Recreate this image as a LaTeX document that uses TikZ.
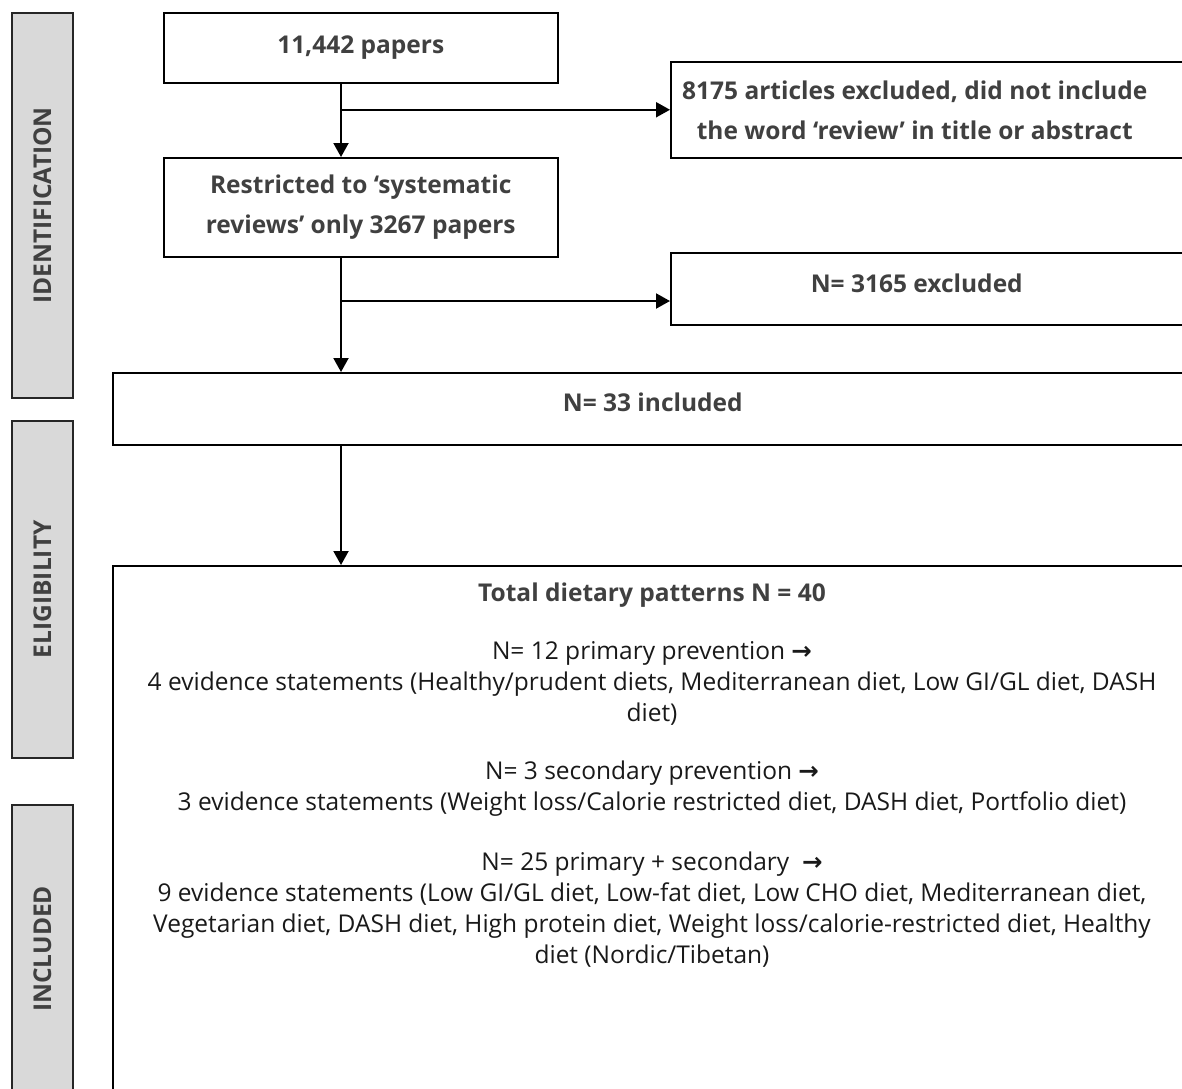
\documentclass[tikz,border=0pt]{standalone}
\usepackage{fontspec}
\setmainfont{Open Sans}
\newfontfamily\symfont{DejaVu Sans}
\usetikzlibrary{arrows.meta,positioning}
\definecolor{bartext}{HTML}{404040}
\definecolor{barfill}{HTML}{D9D9D9}
\newcommand{\toarrow}{{\symfont\bfseries →}}

\begin{document}
\begin{tikzpicture}[x=1pt,y=-1pt,
  stagebar/.style={draw=black!85, line width=1.5pt, fill=barfill, minimum width=61pt, anchor=north west, inner sep=0pt},
  stagelabel/.style={rotate=90, text=bartext, font=\fontsize{24.5}{28}\selectfont\bfseries},
  flowbox/.style={draw, line width=1.5pt, anchor=north west, inner sep=0pt, align=center, text=bartext, font=\fontsize{24.5}{40}\selectfont\bfseries},
  boxtext/.style={align=center, text=bartext, font=\fontsize{24.5}{40}\selectfont\bfseries},
  bodytext/.style={align=center, text=black!90, font=\fontsize{24.5}{31}\selectfont},
  flowarrow/.style={line width=2pt, -{Triangle[length=14pt,width=15pt]}}]
  \useasboundingbox (0,0) rectangle (1182,1088);
  \clip (0,0) rectangle (1182,1088);

  % stage bars on the left
  \node[stagebar, minimum height=385pt] (idbar) at (11,12) {};
  \node[stagelabel] (idlabel) at (idbar.center) {IDENTIFICATION};
  \node[stagebar, minimum height=337pt] (eligbar) at (11,420) {};
  \node[stagelabel] (eliglabel) at (eligbar.center) {ELIGIBILITY};
  \node[stagebar, minimum height=288pt] (inclbar) at (11,804) {};
  \node[stagelabel] (incllabel) at (inclbar.center) {INCLUDED};

  % flow boxes
  \node[flowbox, minimum width=394pt, minimum height=70pt] (papers) at (163,12) {11,442 papers};
  \node[flowbox, minimum width=394pt, minimum height=99pt] (restricted) at (163,157) {Restricted to ‘systematic\\reviews’ only 3267 papers};
  \node[flowbox, minimum width=522pt, minimum height=96pt] (exclA) at (670,61) {};
  \node[boxtext] (exclAtext) at ([xshift=-17pt,yshift=-1pt]exclA.center) {8175 articles excluded, did not include\\the word ‘review’ in title or abstract};
  \node[flowbox, minimum width=522pt, minimum height=72pt] (exclB) at (670,252) {};
  \node[boxtext] (exclBtext) at ([xshift=-15pt,yshift=5pt]exclB.center) {N= 3165 excluded};
  \node[flowbox, minimum width=1080pt, minimum height=72pt, text depth=14pt] (included) at (112,372) {N= 33 included};
  \node[flowbox, minimum width=1080pt, minimum height=540pt] (dietbox) at (112,565) {};

  % text in the last box
  \node[bodytext, font=\fontsize{24.5}{31}\selectfont\bfseries, text=bartext] (total) at (652,595) {Total dietary patterns N = 40};
  \node[bodytext] (primary) at (652,683) {N= 12 primary prevention \toarrow\\4 evidence statements (Healthy/prudent diets, Mediterranean diet, Low GI/GL diet, DASH\\diet)};
  \node[bodytext] (secondary) at (652,789) {N= 3 secondary prevention \toarrow\\3 evidence statements (Weight loss/Calorie restricted diet, DASH diet, Portfolio diet)};
  \node[bodytext] (both) at (652,910) {N= 25 primary + secondary\ \ \toarrow\\9 evidence statements (Low GI/GL diet, Low-fat diet, Low CHO diet, Mediterranean diet,\\Vegetarian diet, DASH diet, High protein diet, Weight loss/calorie-restricted diet, Healthy\\diet (Nordic/Tibetan)};

  % connectors
  \coordinate (trunk) at (341,0);
  \coordinate (branchB) at (0,301);
  \draw[flowarrow] (papers.south -| trunk) -- (restricted.north -| trunk);
  \draw[flowarrow] (papers.south -| trunk) |- (exclA.west);
  \draw[flowarrow] (restricted.south -| trunk) -- (included.north -| trunk);
  \draw[flowarrow] (trunk |- branchB) -- (exclB.west |- branchB);
  \draw[flowarrow] (included.south -| trunk) -- (dietbox.north -| trunk);
\end{tikzpicture}
\end{document}
